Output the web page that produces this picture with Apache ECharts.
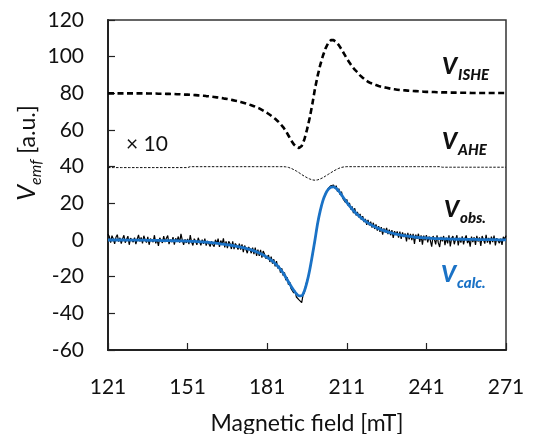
<!DOCTYPE html>
<html><head><meta charset="utf-8">
<script src="https://cdn.jsdelivr.net/npm/echarts@6/dist/echarts.min.js"></script>
<style>html,body{margin:0;padding:0;background:#fff}#c{width:540px;height:434px}</style>
</head><body><div id="c"></div>
<script>
const field = [
121,122,123,124,125,126,127,128,129,130,
131,132,133,134,135,136,137,138,139,140,
141,142,143,144,145,146,147,148,149,150,
151,152,153,154,155,156,157,158,159,160,
161,162,163,164,165,166,167,168,169,170,
171,172,173,174,175,176,177,178,179,180,
181,182,183,184,185,186,187,188,189,190,
191,192,193,194,195,196,197,198,199,200,
201,202,203,204,205,206,207,208,209,210,
211,212,213,214,215,216,217,218,219,220,
221,222,223,224,225,226,227,228,229,230,
231,232,233,234,235,236,237,238,239,240,
241,242,243,244,245,246,247,248,249,250,
251,252,253,254,255,256,257,258,259,260,
261,262,263,264,265,266,267,268,269,270,271];

const fieldObs = [
121,121.5,122,122.5,123,123.5,124,124.5,125,125.5,
126,126.5,127,127.5,128,128.5,129,129.5,130,130.5,
131,131.5,132,132.5,133,133.5,134,134.5,135,135.5,
136,136.5,137,137.5,138,138.5,139,139.5,140,140.5,
141,141.5,142,142.5,143,143.5,144,144.5,145,145.5,
146,146.5,147,147.5,148,148.5,149,149.5,150,150.5,
151,151.5,152,152.5,153,153.5,154,154.5,155,155.5,
156,156.5,157,157.5,158,158.5,159,159.5,160,160.5,
161,161.5,162,162.5,163,163.5,164,164.5,165,165.5,
166,166.5,167,167.5,168,168.5,169,169.5,170,170.5,
171,171.5,172,172.5,173,173.5,174,174.5,175,175.5,
176,176.5,177,177.5,178,178.5,179,179.5,180,180.5,
181,181.5,182,182.5,183,183.5,184,184.5,185,185.5,
186,186.5,187,187.5,188,188.5,189,189.5,190,190.5,
191,191.5,192,192.5,193,193.5,194,194.5,195,195.5,
196,196.5,197,197.5,198,198.5,199,199.5,200,200.5,
201,201.5,202,202.5,203,203.5,204,204.5,205,205.5,
206,206.5,207,207.5,208,208.5,209,209.5,210,210.5,
211,211.5,212,212.5,213,213.5,214,214.5,215,215.5,
216,216.5,217,217.5,218,218.5,219,219.5,220,220.5,
221,221.5,222,222.5,223,223.5,224,224.5,225,225.5,
226,226.5,227,227.5,228,228.5,229,229.5,230,230.5,
231,231.5,232,232.5,233,233.5,234,234.5,235,235.5,
236,236.5,237,237.5,238,238.5,239,239.5,240,240.5,
241,241.5,242,242.5,243,243.5,244,244.5,245,245.5,
246,246.5,247,247.5,248,248.5,249,249.5,250,250.5,
251,251.5,252,252.5,253,253.5,254,254.5,255,255.5,
256,256.5,257,257.5,258,258.5,259,259.5,260,260.5,
261,261.5,262,262.5,263,263.5,264,264.5,265,265.5,
266,266.5,267,267.5,268,268.5,269,269.5,270,270.5,271];

const vISHE = [
80.0,80.0,80.0,80.0,80.0,80.0,80.0,80.0,80.0,80.0,
80.0,80.0,80.0,80.0,80.0,79.9,79.9,79.9,79.9,79.8,
79.8,79.8,79.7,79.7,79.6,79.6,79.5,79.5,79.4,79.3,
79.3,79.2,79.1,79.0,78.9,78.8,78.7,78.5,78.4,78.2,
78.0,77.8,77.6,77.4,77.1,76.9,76.6,76.3,76.0,75.7,
75.3,74.9,74.5,74.0,73.5,73.0,72.4,71.8,71.0,70.2,
69.3,68.3,67.2,66.1,64.8,63.3,61.6,59.5,57.0,54.4,
52.2,50.8,50.2,51.3,54.8,60.2,66.5,74.0,82.5,89.5,
95.5,100.5,104.5,107.5,109.0,109.0,108.0,106.3,104.0,101.5,
99.0,96.8,94.7,92.9,91.5,89.8,88.5,87.3,86.3,85.6,
85.0,84.5,84.0,83.6,83.3,83.0,82.7,82.4,82.2,82.0,
81.8,81.7,81.6,81.5,81.4,81.3,81.2,81.1,81.0,80.9,
80.8,80.8,80.7,80.7,80.6,80.6,80.5,80.5,80.5,80.4,
80.4,80.4,80.3,80.3,80.3,80.3,80.3,80.2,80.2,80.2,
80.2,80.2,80.2,80.2,80.2,80.2,80.2,80.2,80.2,80.2,80.2];

const vAHE = [
39.5,39.5,39.5,39.5,39.5,39.5,39.5,39.5,39.5,39.5,
39.5,39.5,39.5,39.5,39.5,39.5,39.5,39.5,39.5,39.5,
39.5,39.5,39.5,39.5,39.5,39.5,39.5,39.5,39.5,39.5,
39.5,40.0,40.0,40.0,40.0,40.0,40.0,40.0,40.0,40.0,
40.0,40.0,40.0,40.0,40.0,40.0,40.0,40.0,40.0,40.0,
40.0,40.0,40.0,40.0,40.0,40.0,40.0,40.0,40.0,40.0,
40.0,40.0,40.0,40.0,40.0,40.0,40.0,39.9,39.6,39.1,
38.4,37.6,36.7,35.7,34.8,34.0,33.3,32.8,32.6,32.8,
33.3,34.0,34.9,35.8,36.7,37.6,38.4,39.1,39.6,39.9,
40.0,40.0,40.0,40.0,40.0,40.0,40.0,40.0,40.0,40.0,
40.0,40.0,40.0,40.0,40.0,40.0,40.0,40.0,40.0,40.0,
40.0,40.0,40.0,40.0,40.0,40.0,40.0,40.0,40.0,40.0,
40.0,40.0,40.0,40.0,40.0,40.0,39.7,39.7,39.7,39.7,
39.7,39.7,39.7,39.7,39.7,39.7,39.7,39.7,39.7,39.7,
39.7,39.7,39.7,39.7,39.7,39.7,39.7,39.7,39.7,39.7,39.7];

const vObs = [
3.2,1.9,-1.4,2.4,0.6,-2.1,1.5,2.9,-0.9,1.2,
-2.0,0.7,2.6,-1.5,0.3,2.1,-2.6,1.0,1.6,-1.2,
1.3,-2.2,0.4,2.8,-0.8,1.4,-1.9,2.3,0.1,-1.4,
1.7,-2.6,0.7,1.4,-1.2,2.6,-1.8,0.4,-3.2,1.2,
0.6,-1.6,2.1,-1.1,1.0,2.4,-2.2,0.2,-1.1,1.6,
-2.5,0.9,-0.7,1.9,-1.5,3.4,-0.1,-2.6,0.4,-1.6,
0.6,-2.3,2.7,-1.1,-3.0,0.7,-0.6,-2.6,1.2,-0.9,
-2.9,0.2,-2.1,0.8,-3.1,-0.5,0.4,-3.6,-0.7,-2.5,
-3.6,0.1,-2.0,0.7,-3.8,-0.3,-2.2,0.9,-4.0,-0.7,
-4.4,-0.7,-2.0,-4.9,-0.8,-5.0,-1.9,-3.2,-5.2,-2.0,
-5.3,-2.4,-6.6,-3.0,-4.0,-7.2,-3.8,-5.0,-7.2,-4.2,
-7.7,-4.2,-8.7,-5.2,-8.7,-5.4,-9.6,-6.0,-7.8,-10.2,
-11.1,-8.3,-12.0,-9.1,-12.9,-10.5,-14.4,-11.5,-15.5,-14.1,
-17.8,-15.4,-19.4,-17.7,-21.9,-20.3,-24.4,-23.0,-26.6,-26.7,
-28.8,-27.7,-31.1,-31.9,-32.7,-33.4,-34.2,-30.1,-28.8,-24.6,
-23.6,-19.8,-16.4,-12.6,-8.9,-4.6,-0.3,4.8,9.3,12.9,
16.4,19.0,21.8,23.1,25.5,26.6,28.1,28.6,29.6,29.3,
30.0,28.2,29.6,26.4,28.0,24.6,26.4,22.7,23.3,20.5,
22.1,18.7,20.2,16.7,18.3,14.7,17.3,13.4,15.3,12.4,
14.2,11.0,13.0,9.8,11.5,8.2,10.9,8.0,10.0,6.8,
9.4,6.0,8.5,5.1,7.6,4.5,7.0,2.9,6.3,4.2,
6.6,3.2,5.6,2.6,5.4,1.2,4.8,2.8,4.7,1.3,
4.6,0.6,4.1,1.6,3.5,-0.8,3.9,0.4,3.3,0.0,
3.3,-2.2,2.9,0.6,3.4,-1.0,2.5,-2.5,2.4,-0.2,
2.7,-1.3,1.9,-0.3,-3.6,2.2,0.4,-2.4,2.6,-1.6,
-3.8,1.7,-0.7,2.2,-2.8,1.3,-1.8,2.6,-3.5,0.9,
2.1,-2.3,0.3,2.6,-3.0,1.2,-1.4,2.0,-2.4,0.8,
2.5,-1.7,0.3,-3.6,1.9,-1.1,1.5,-2.7,2.3,-0.9,
1.4,-3.2,2.2,0.2,-2.0,2.8,-1.4,1.2,-2.4,1.8,
-1.2,2.4,-3.0,1.0,2.0,-1.7,0.7,-2.7,1.7,0.5,2.4];

const vCalc = [
0,0,0,0,0,0,0,-0.1,-0.1,-0.1,
-0.1,-0.1,-0.1,-0.1,-0.1,-0.2,-0.2,-0.2,-0.2,-0.2,
-0.3,-0.3,-0.3,-0.3,-0.4,-0.4,-0.4,-0.5,-0.5,-0.6,
-0.6,-0.7,-0.7,-0.8,-0.9,-1.0,-1.1,-1.2,-1.3,-1.5,
-1.6,-1.8,-2.0,-2.2,-2.4,-2.6,-2.8,-3.0,-3.3,-3.6,
-3.9,-4.2,-4.6,-5.0,-5.4,-5.9,-6.5,-7.1,-7.8,-8.6,
-9.5,-10.4,-11.5,-12.8,-14.3,-16.0,-18.0,-20.3,-22.8,-25.2,
-27.4,-29.3,-30.5,-30.4,-27.8,-23.0,-16.5,-8.5,0.0,9.0,
16.0,21.5,25.2,27.6,28.8,29.0,28.2,26.6,24.6,22.5,
20.5,18.6,16.9,15.3,13.9,12.6,11.4,10.3,9.3,8.4,
7.6,6.9,6.2,5.6,5.1,4.6,4.2,3.8,3.4,3.1,
2.8,2.5,2.3,2.1,1.9,1.7,1.5,1.4,1.3,1.2,
1.1,1.0,0.9,0.8,0.8,0.7,0.7,0.6,0.6,0.5,
0.5,0.4,0.4,0.4,0.4,0.3,0.3,0.3,0.3,0.3,
0.2,0.2,0.2,0.2,0.2,0.2,0.2,0.1,0.1,0.1,0.1];

const xRange = [121, 271], xStep = 30;
const yRange = [-60, 120], yStep = 20;
const seriesNames = ['V_ISHE', 'V_AHE', 'V_obs', 'V_calc'];

function pairs(xs, ys) { return xs.map((x, i) => [x, ys[i]]); }

const FONT = 'Lato';
const BLUE = '#1a72c6';
const chart = echarts.init(document.getElementById('c'), null, {renderer: 'canvas'});

function tag(main, sub, color, left, top) {
  return {
    type: 'text', left: left, top: top, silent: true,
    style: {
      text: '{v|' + main + '}{s|' + sub + '}',
      rich: {
        v: {font: 'italic 900 23px Lato', fontFamily: FONT, fontSize: 23, fontWeight: 900, fontStyle: 'italic', fill: color, verticalAlign: 'bottom', padding: [0, 1, 5, 0]},
        s: {font: 'italic 900 15px Lato', fontFamily: FONT, fontSize: 15, fontWeight: 900, fontStyle: 'italic', fill: color, verticalAlign: 'bottom'}
      }
    }
  };
}

chart.setOption({
  animation: false,
  backgroundColor: '#fff',
  grid: {left: 108, right: 34, top: 20, bottom: 84, outerBoundsMode: 'none', containLabel: false,
         show: true, borderColor: '#333', borderWidth: 1.5, backgroundColor: 'transparent'},
  xAxis: {
    type: 'value', min: xRange[0], max: xRange[1], interval: xStep,
    axisLine: {show: true, onZero: false, lineStyle: {color: '#222', width: 2}},
    axisTick: {show: true, inside: true, length: 7, lineStyle: {color: '#222', width: 1.2}},
    splitLine: {show: false},
    axisLabel: {fontFamily: FONT, fontSize: 21, color: '#111', margin: 27},
    name: 'Magnetic field [mT]', nameLocation: 'middle', nameGap: 62,
    nameTextStyle: {fontFamily: FONT, fontSize: 23, color: '#111'}
  },
  yAxis: {
    type: 'value', min: yRange[0], max: yRange[1], interval: yStep,
    axisLine: {show: true, onZero: false, lineStyle: {color: '#222', width: 2}},
    axisTick: {show: true, inside: true, length: 7, lineStyle: {color: '#222', width: 1.2}},
    splitLine: {show: false},
    axisLabel: {fontFamily: FONT, fontSize: 21, color: '#111', margin: 24}
  },
  series: [
    {name: seriesNames[0], type: 'line', data: pairs(field, vISHE), showSymbol: false, symbol: 'none',
     lineStyle: {color: '#000', width: 2.6, type: [6, 3.5]}, z: 3},
    {name: seriesNames[1], type: 'line', data: pairs(field, vAHE), showSymbol: false, symbol: 'none',
     lineStyle: {color: '#111', width: 1, type: [2.5, 1.5]}, z: 3},
    {name: seriesNames[2], type: 'line', data: pairs(fieldObs, vObs), showSymbol: false, symbol: 'none',
     lineStyle: {color: '#000', width: 1.2}, z: 4},
    {name: seriesNames[3], type: 'line', data: pairs(field, vCalc), showSymbol: false, symbol: 'none', smooth: 0.3,
     lineStyle: {color: BLUE, width: 2.8}, z: 5}
  ],
  graphic: [
    tag('V', 'ISHE', '#111', 442, 55),
    tag('V', 'AHE', '#111', 442, 130),
    tag('V', 'obs.', '#111', 444, 198),
    tag('V', 'calc.', BLUE, 441, 263),
    {type: 'text', left: 126, top: 134, silent: true,
     style: {text: '\u00d7 10', fontFamily: FONT, fontSize: 21, fill: '#111'}},
    {type: 'text', x: 29, y: 153, rotation: Math.PI / 2, silent: true,
     style: {
       text: '{v|V}{s|emf}{t| [a.u.]}', align: 'center', verticalAlign: 'middle',
       rich: {
         v: {fontFamily: FONT, fontSize: 25, fontStyle: 'italic', fill: '#111', verticalAlign: 'bottom', padding: [0, 0, 5, 0]},
         s: {fontFamily: FONT, fontSize: 16, fontStyle: 'italic', fill: '#111', verticalAlign: 'bottom'},
         t: {fontFamily: FONT, fontSize: 23, fill: '#111', verticalAlign: 'bottom', padding: [0, 0, 5, 0]}
       }
     }}
  ]
});
</script>
</body></html>
